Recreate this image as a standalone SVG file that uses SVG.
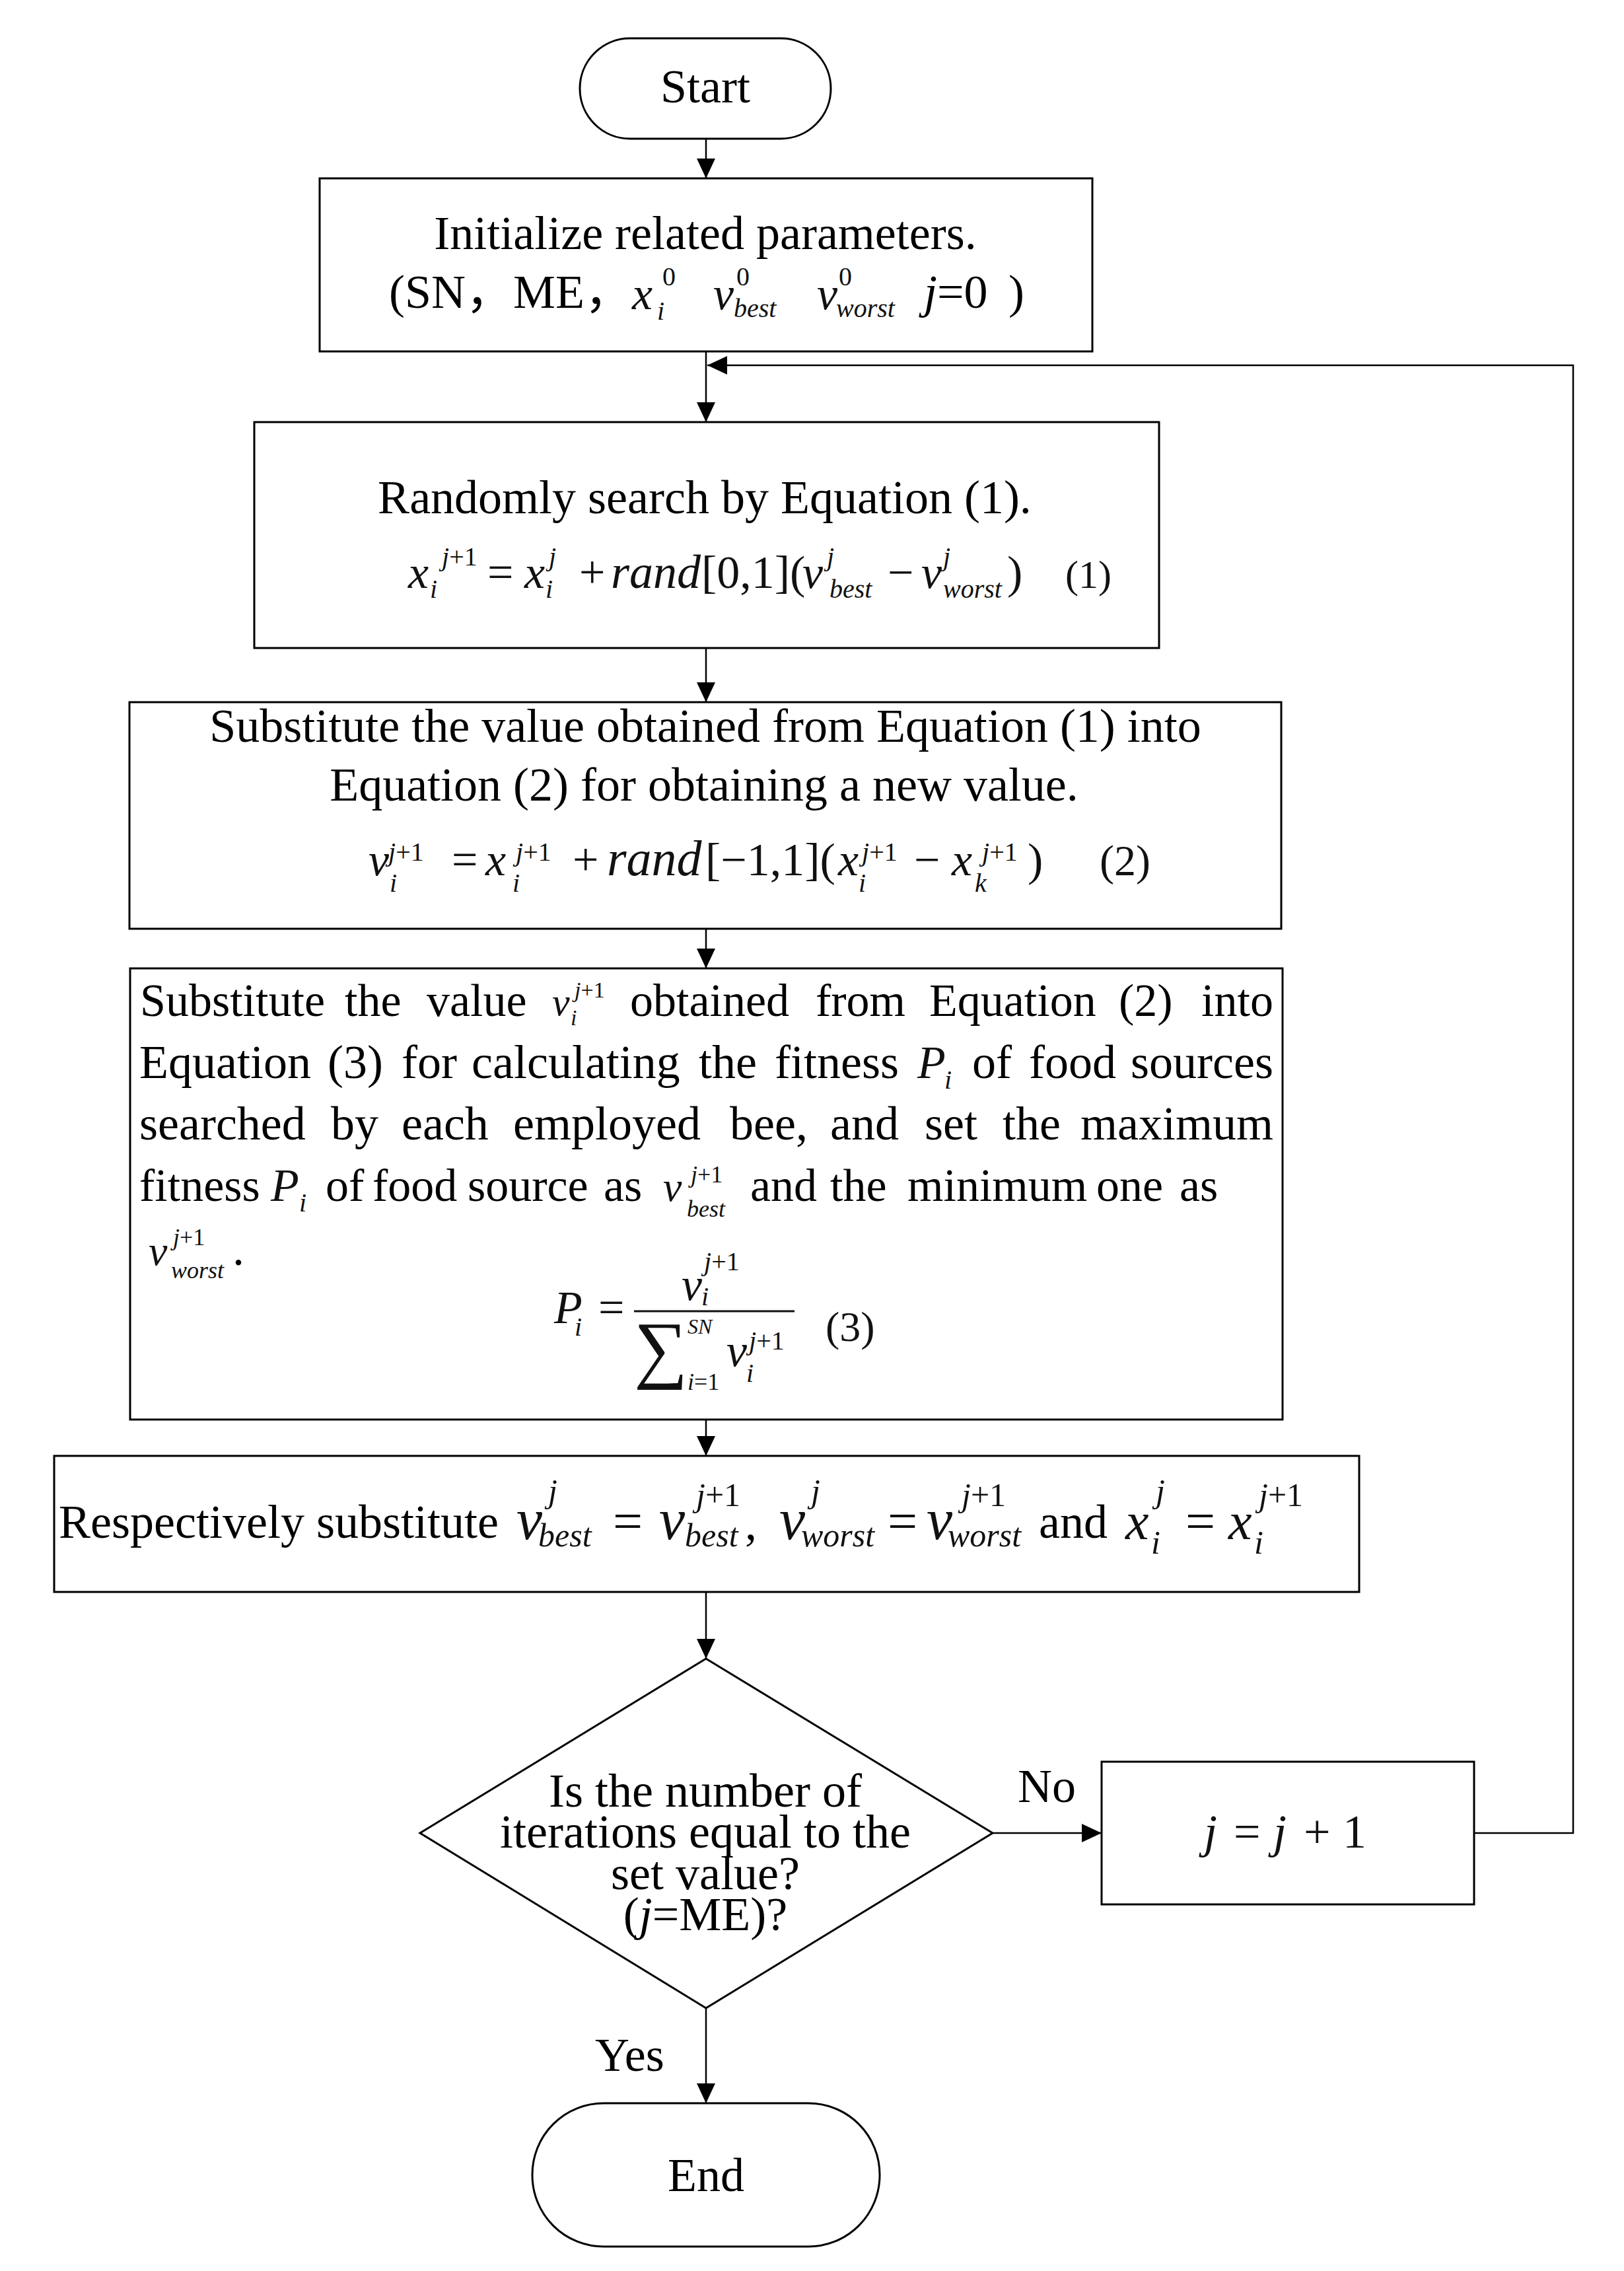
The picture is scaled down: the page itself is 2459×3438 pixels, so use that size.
<svg xmlns="http://www.w3.org/2000/svg" width="2459" height="3438" viewBox="0 0 2459 3438">
<defs>
<style>
.node{fill:#fff;stroke:#000;stroke-width:3}
.conn{fill:none;stroke:#000;stroke-width:2.5}
.t{font-family:"Liberation Serif","Noto Sans CJK SC",serif;font-size:72px;fill:#000}
.m{font-family:"Liberation Serif",serif;font-style:italic;font-size:70px;fill:#111}
.u{font-family:"Liberation Serif",serif;font-style:normal;font-size:70px;fill:#111}
.s{font-family:"Liberation Serif",serif;font-style:italic;font-size:40px;fill:#111}
.su{font-family:"Liberation Serif",serif;font-style:normal;font-size:40px;fill:#111}
.up{font-style:normal}
</style>
<marker id="ah" markerUnits="userSpaceOnUse" markerWidth="30" markerHeight="28" refX="30" refY="14" orient="auto">
<path d="M0,0 L30,14 L0,28 z" fill="#000"/>
</marker>
</defs>
<rect width="2459" height="3438" fill="#fff"/>

<g id="connectors">
<line class="conn" x1="1069" y1="211" x2="1069" y2="270" marker-end="url(#ah)"/>
<line class="conn" x1="1069" y1="532" x2="1069" y2="639" marker-end="url(#ah)"/>
<polyline class="conn" points="2232,2775 2382,2775 2382,553 1071,553" marker-end="url(#ah)"/>
<line class="conn" x1="1069" y1="981" x2="1069" y2="1063" marker-end="url(#ah)"/>
<line class="conn" x1="1069" y1="1406" x2="1069" y2="1466" marker-end="url(#ah)"/>
<line class="conn" x1="1069" y1="2149" x2="1069" y2="2204" marker-end="url(#ah)"/>
<line class="conn" x1="1069" y1="2410" x2="1069" y2="2511" marker-end="url(#ah)"/>
<line class="conn" x1="1503" y1="2775" x2="1668" y2="2775" marker-end="url(#ah)"/>
<line class="conn" x1="1069" y1="3040" x2="1069" y2="3184" marker-end="url(#ah)"/>
<text class="t" x="1541" y="2728">No</text>
<text class="t" x="901" y="3135">Yes</text>
</g>

<g id="start">
<rect class="node" x="878" y="58" width="380" height="152" rx="76" ry="76"/>
<text class="t" x="1068" y="155" text-anchor="middle">Start</text>
</g>

<g id="init">
<rect class="node" x="484" y="270" width="1170" height="262"/>
<text class="t" x="1068" y="377" text-anchor="middle">Initialize related parameters.</text>
<text class="t" x="589" y="466">(SN，</text>
<text class="t" x="777" y="466">ME，</text>
<text class="m" x="957" y="468">x</text>
<text class="su" x="1003" y="432">0</text>
<text class="s" x="995" y="484">i</text>
<text class="m" x="1080" y="468">v</text>
<text class="su" x="1115" y="432">0</text>
<text class="s" x="1111" y="480">best</text>
<text class="m" x="1237" y="468">v</text>
<text class="su" x="1270" y="432">0</text>
<text class="s" x="1266" y="480">worst</text>
<text class="t" x="1399" y="466"><tspan font-style="italic">j</tspan>=0</text>
<text class="t" x="1527" y="466">)</text>
</g>

<g id="search">
<rect class="node" x="385" y="639" width="1370" height="342"/>
<text class="t" x="1067" y="777" text-anchor="middle">Randomly search by Equation (1).</text>
<text class="m" x="618" y="890">x</text>
<text class="s" x="669" y="856">j<tspan class="up">+1</tspan></text>
<text class="s" x="651" y="905">i</text>
<text class="u" x="738" y="890">=</text>
<text class="m" x="794" y="890">x</text>
<text class="s" x="831" y="856">j</text>
<text class="s" x="826" y="905">i</text>
<text class="u" x="877" y="890">+</text>
<text class="m" x="925" y="890" style="font-size:72px">rand</text>
<text class="u" x="1062" y="890">[0,1](</text>
<text class="m" x="1215" y="890">v</text>
<text class="s" x="1252" y="856">j</text>
<text class="s" x="1256" y="905">best</text>
<text class="u" x="1344" y="890">−</text>
<text class="m" x="1395" y="890">v</text>
<text class="s" x="1428" y="856">j</text>
<text class="s" x="1428" y="905">worst</text>
<text class="u" x="1525" y="890">)</text>
<text class="u" x="1613" y="890" style="font-size:60px">(1)</text>
</g>

<g id="newvalue">
<rect class="node" x="196" y="1063" width="1744" height="343"/>
<text class="t" x="1068" y="1123" text-anchor="middle">Substitute the value obtained from Equation (1) into</text>
<text class="t" x="1066" y="1212" text-anchor="middle">Equation (2) for obtaining a new value.</text>
<text class="m" x="558" y="1325">v</text>
<text class="s" x="588" y="1303">j<tspan class="up">+1</tspan></text>
<text class="s" x="590" y="1350">i</text>
<text class="u" x="684" y="1325">=</text>
<text class="m" x="735" y="1325">x</text>
<text class="s" x="781" y="1303">j<tspan class="up">+1</tspan></text>
<text class="s" x="776" y="1350">i</text>
<text class="u" x="867" y="1325">+</text>
<text class="m" x="919" y="1325" style="font-size:76px">rand</text>
<text class="u" x="1068" y="1325">[−1,1](</text>
<text class="m" x="1269" y="1325">x</text>
<text class="s" x="1305" y="1303">j<tspan class="up">+1</tspan></text>
<text class="s" x="1300" y="1350">i</text>
<text class="u" x="1384" y="1325">−</text>
<text class="m" x="1441" y="1325">x</text>
<text class="s" x="1487" y="1303">j<tspan class="up">+1</tspan></text>
<text class="s" x="1476" y="1350">k</text>
<text class="u" x="1556" y="1325">)</text>
<text class="u" x="1665" y="1325" style="font-size:66px">(2)</text>
</g>

<g id="fitness">
<rect class="node" x="197" y="1466" width="1745" height="683"/>
<text class="t" y="1538" style="font-size:70px"><tspan x="212">Substitute</tspan><tspan x="522">the</tspan><tspan x="646">value</tspan><tspan x="954">obtained</tspan><tspan x="1235">from</tspan><tspan x="1407">Equation</tspan><tspan x="1694">(2)</tspan></text>
<text class="t" x="1928" y="1538" text-anchor="end" style="font-size:70px">into</text>
<text class="m" x="836" y="1537" style="font-size:60px">v</text>
<text class="s" x="870" y="1510" style="font-size:34px">j<tspan class="up">+1</tspan></text>
<text class="s" x="864" y="1552" style="font-size:34px">i</text>

<text class="t" y="1632"><tspan x="211">Equation</tspan><tspan x="496">(3)</tspan><tspan x="608">for</tspan><tspan x="714">calculating</tspan><tspan x="1058">the</tspan><tspan x="1173">fitness</tspan><tspan x="1472">of</tspan><tspan x="1558">food</tspan></text>
<text class="t" x="1928" y="1632" text-anchor="end">sources</text>
<text class="m" x="1389" y="1632">P</text>
<text class="s" x="1430" y="1648">i</text>

<text class="t" y="1725"><tspan x="211">searched</tspan><tspan x="501">by</tspan><tspan x="608">each</tspan><tspan x="777">employed</tspan><tspan x="1105">bee,</tspan><tspan x="1257">and</tspan><tspan x="1400">set</tspan><tspan x="1518">the</tspan></text>
<text class="t" x="1928" y="1725" text-anchor="end">maximum</text>

<text class="t" y="1818" style="font-size:70px"><tspan x="211">fitness</tspan><tspan x="493">of</tspan><tspan x="564">food</tspan><tspan x="708">source</tspan><tspan x="914">as</tspan><tspan x="1136">and</tspan><tspan x="1257">the</tspan><tspan x="1374">minimum</tspan><tspan x="1660">one</tspan><tspan x="1786">as</tspan></text>
<text class="m" x="410" y="1818">P</text>
<text class="s" x="453" y="1834">i</text>
<text class="m" x="1004" y="1818" style="font-size:64px">v</text>
<text class="s" x="1046" y="1790" style="font-size:36px">j<tspan class="up">+1</tspan></text>
<text class="s" x="1040" y="1842" style="font-size:36px">best</text>

<text class="m" x="225" y="1915" style="font-size:64px">v</text>
<text class="s" x="262" y="1885" style="font-size:36px">j<tspan class="up">+1</tspan></text>
<text class="s" x="259" y="1935" style="font-size:36px">worst</text>
<text class="t" x="352" y="1915">.</text>

<text class="m" x="839" y="2003">P</text>
<text class="s" x="870" y="2022">i</text>
<text class="u" x="906" y="2003">=</text>
<line x1="960" y1="1985" x2="1203" y2="1985" stroke="#111" stroke-width="3"/>
<text class="m" x="1032" y="1968">v</text>
<text class="s" x="1066" y="1923">j<tspan class="up">+1</tspan></text>
<text class="s" x="1062" y="1976">i</text>
<text class="u" x="960" y="2080" style="font-size:114px">∑</text>
<text class="s" x="1041" y="2019" style="font-size:32px">SN</text>
<text class="s" x="1041" y="2104" style="font-size:36px">i<tspan class="up">=1</tspan></text>
<text class="m" x="1100" y="2068">v</text>
<text class="s" x="1134" y="2043">j<tspan class="up">+1</tspan></text>
<text class="s" x="1130" y="2092">i</text>
<text class="u" x="1250" y="2030" style="font-size:64px">(3)</text>
</g>

<g id="update">
<rect class="node" x="82" y="2204" width="1976" height="206"/>
<text class="t" x="89" y="2328">Respectively substitute</text>
<text class="m" x="782" y="2330" style="font-size:88px">v</text>
<text class="s" x="830" y="2274" style="font-size:50px">j</text>
<text class="s" x="815" y="2341" style="font-size:50px">best</text>
<text class="u" x="928" y="2330" style="font-size:80px">=</text>
<text class="m" x="998" y="2330" style="font-size:88px">v</text>
<text class="s" x="1054" y="2280" style="font-size:50px">j<tspan class="up">+1</tspan></text>
<text class="s" x="1037" y="2341" style="font-size:50px">best</text>
<text class="t" x="1128" y="2330">,</text>
<text class="m" x="1180" y="2330" style="font-size:88px">v</text>
<text class="s" x="1228" y="2274" style="font-size:50px">j</text>
<text class="s" x="1213" y="2341" style="font-size:50px">worst</text>
<text class="u" x="1344" y="2330" style="font-size:80px">=</text>
<text class="m" x="1403" y="2330" style="font-size:88px">v</text>
<text class="s" x="1456" y="2280" style="font-size:50px">j<tspan class="up">+1</tspan></text>
<text class="s" x="1435" y="2341" style="font-size:50px">worst</text>
<text class="t" x="1573" y="2328">and</text>
<text class="m" x="1704" y="2330" style="font-size:80px">x</text>
<text class="s" x="1750" y="2274" style="font-size:50px">j</text>
<text class="s" x="1743" y="2352" style="font-size:50px">i</text>
<text class="u" x="1795" y="2330" style="font-size:80px">=</text>
<text class="m" x="1860" y="2330" style="font-size:80px">x</text>
<text class="s" x="1906" y="2280" style="font-size:50px">j<tspan class="up">+1</tspan></text>
<text class="s" x="1899" y="2352" style="font-size:50px">i</text>
</g>

<g id="decision">
<polygon class="node" points="1069,2511 1503,2775 1069,3040 636,2775"/>
<text class="t" x="1068" y="2735" text-anchor="middle">Is the number of</text>
<text class="t" x="1068" y="2797" text-anchor="middle">iterations equal to the</text>
<text class="t" x="1068" y="2860" text-anchor="middle">set value?</text>
<text class="t" x="1068" y="2922" text-anchor="middle">(<tspan font-style="italic">j</tspan>=ME)?</text>
</g>

<g id="increment">
<rect class="node" x="1668" y="2667" width="564" height="216"/>
<text class="m" x="1823" y="2797" style="font-size:72px">j</text>
<text class="u" x="1868" y="2797" style="font-size:72px">=</text>
<text class="m" x="1928" y="2797" style="font-size:72px">j</text>
<text class="u" x="1974" y="2797" style="font-size:72px">+</text>
<text class="u" x="2033" y="2797" style="font-size:72px">1</text>
</g>

<g id="end">
<rect class="node" x="806" y="3184" width="526" height="217" rx="108" ry="108"/>
<text class="t" x="1069" y="3317" text-anchor="middle">End</text>
</g>
</svg>
